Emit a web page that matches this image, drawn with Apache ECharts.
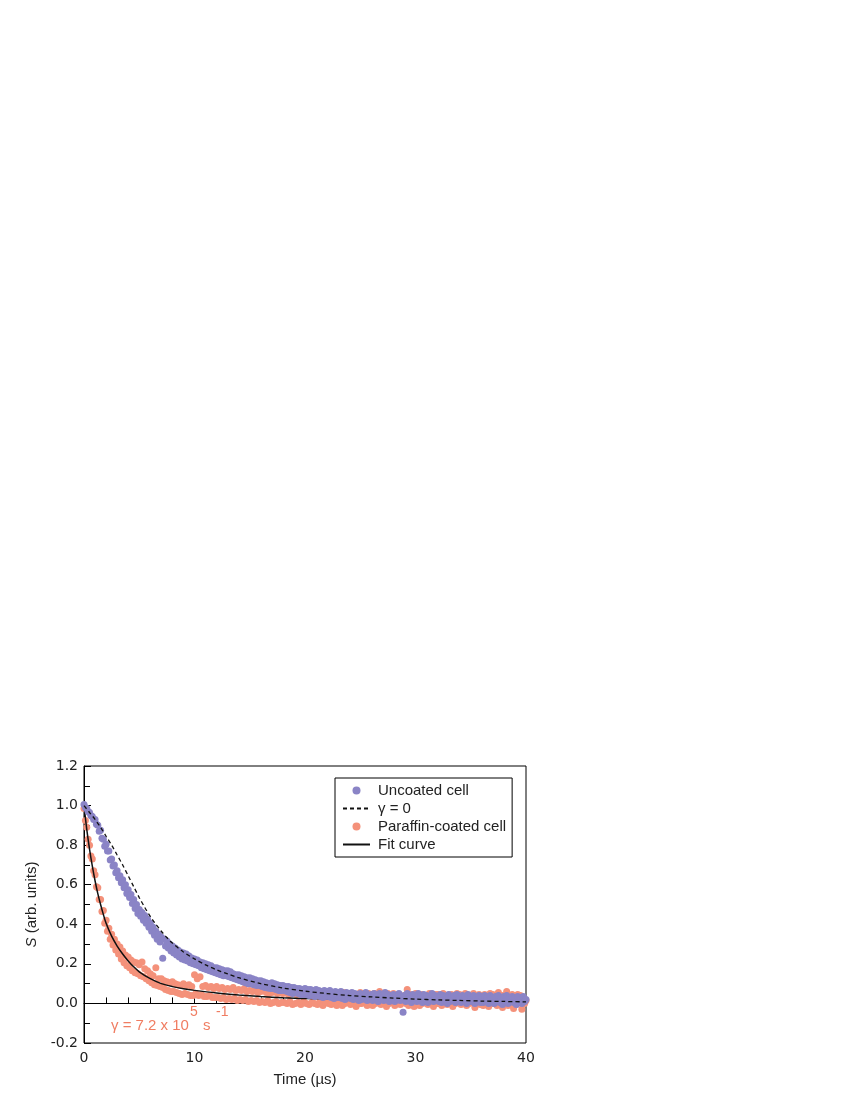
<!DOCTYPE html>
<html>
<head>
<meta charset="utf-8">
<script src="https://cdn.jsdelivr.net/npm/echarts@6/dist/echarts.min.js"></script>
<style>
  html, body { margin: 0; padding: 0; background: #fff; }
  #chart { width: 850px; height: 1100px; }
</style>
</head>
<body>
<div id="chart"></div>
<script>
// sample times (µs), shared by both data sets
const times = [
  0, 0.125, 0.25, 0.375, 0.5, 0.625, 0.75, 0.875,
  1, 1.125, 1.25, 1.375, 1.5, 1.625, 1.75, 1.875,
  2, 2.125, 2.25, 2.375, 2.5, 2.625, 2.75, 2.875,
  3, 3.125, 3.25, 3.375, 3.5, 3.625, 3.75, 3.875,
  4, 4.125, 4.25, 4.375, 4.5, 4.625, 4.75, 4.875,
  5, 5.125, 5.25, 5.375, 5.5, 5.625, 5.75, 5.875,
  6, 6.125, 6.25, 6.375, 6.5, 6.625, 6.75, 6.875,
  7, 7.125, 7.25, 7.375, 7.5, 7.625, 7.75, 7.875,
  8, 8.125, 8.25, 8.375, 8.5, 8.625, 8.75, 8.875,
  9, 9.125, 9.25, 9.375, 9.5, 9.625, 9.75, 9.875,
  10, 10.125, 10.25, 10.375, 10.5, 10.625, 10.75, 10.875,
  11, 11.125, 11.25, 11.375, 11.5, 11.625, 11.75, 11.875,
  12, 12.125, 12.25, 12.375, 12.5, 12.625, 12.75, 12.875,
  13, 13.125, 13.25, 13.375, 13.5, 13.625, 13.75, 13.875,
  14, 14.125, 14.25, 14.375, 14.5, 14.625, 14.75, 14.875,
  15, 15.125, 15.25, 15.375, 15.5, 15.625, 15.75, 15.875,
  16, 16.125, 16.25, 16.375, 16.5, 16.625, 16.75, 16.875,
  17, 17.125, 17.25, 17.375, 17.5, 17.625, 17.75, 17.875,
  18, 18.125, 18.25, 18.375, 18.5, 18.625, 18.75, 18.875,
  19, 19.125, 19.25, 19.375, 19.5, 19.625, 19.75, 19.875,
  20, 20.125, 20.25, 20.375, 20.5, 20.625, 20.75, 20.875,
  21, 21.125, 21.25, 21.375, 21.5, 21.625, 21.75, 21.875,
  22, 22.125, 22.25, 22.375, 22.5, 22.625, 22.75, 22.875,
  23, 23.125, 23.25, 23.375, 23.5, 23.625, 23.75, 23.875,
  24, 24.125, 24.25, 24.375, 24.5, 24.625, 24.75, 24.875,
  25, 25.125, 25.25, 25.375, 25.5, 25.625, 25.75, 25.875,
  26, 26.125, 26.25, 26.375, 26.5, 26.625, 26.75, 26.875,
  27, 27.125, 27.25, 27.375, 27.5, 27.625, 27.75, 27.875,
  28, 28.125, 28.25, 28.375, 28.5, 28.625, 28.75, 28.875,
  29, 29.125, 29.25, 29.375, 29.5, 29.625, 29.75, 29.875,
  30, 30.125, 30.25, 30.375, 30.5, 30.625, 30.75, 30.875,
  31, 31.125, 31.25, 31.375, 31.5, 31.625, 31.75, 31.875,
  32, 32.125, 32.25, 32.375, 32.5, 32.625, 32.75, 32.875,
  33, 33.125, 33.25, 33.375, 33.5, 33.625, 33.75, 33.875,
  34, 34.125, 34.25, 34.375, 34.5, 34.625, 34.75, 34.875,
  35, 35.125, 35.25, 35.375, 35.5, 35.625, 35.75, 35.875,
  36, 36.125, 36.25, 36.375, 36.5, 36.625, 36.75, 36.875,
  37, 37.125, 37.25, 37.375, 37.5, 37.625, 37.75, 37.875,
  38, 38.125, 38.25, 38.375, 38.5, 38.625, 38.75, 38.875,
  39, 39.125, 39.25, 39.375, 39.5, 39.625, 39.75, 39.875,
  40
]

// uncoated cell signal (one row per µs)
const uncoated = [
  1.005, 0.99, 0.985, 0.97, 0.965, 0.95, 0.945, 0.93,
  0.93, 0.905, 0.90, 0.87, 0.875, 0.835, 0.83, 0.795,
  0.805, 0.77, 0.77, 0.725, 0.73, 0.695, 0.70, 0.66,
  0.67, 0.635, 0.645, 0.61, 0.625, 0.585, 0.60, 0.555,
  0.575, 0.535, 0.55, 0.505, 0.525, 0.48, 0.50, 0.455,
  0.475, 0.44, 0.46, 0.42, 0.445, 0.405, 0.425, 0.385,
  0.405, 0.365, 0.385, 0.345, 0.365, 0.325, 0.35, 0.31,
  0.335, 0.228, 0.325, 0.29, 0.315, 0.28, 0.30, 0.265,
  0.29, 0.255, 0.28, 0.245, 0.27, 0.235, 0.26, 0.225,
  0.255, 0.22, 0.25, 0.215, 0.24, 0.205, 0.23, 0.20,
  0.225, 0.195, 0.22, 0.19, 0.21, 0.18, 0.205, 0.175,
  0.20, 0.17, 0.195, 0.165, 0.19, 0.16, 0.18, 0.155,
  0.18, 0.15, 0.175, 0.145, 0.17, 0.14, 0.165, 0.14,
  0.165, 0.135, 0.16, 0.13, 0.15, 0.125, 0.145, 0.12,
  0.145, 0.115, 0.14, 0.11, 0.135, 0.105, 0.13, 0.10,
  0.13, 0.10, 0.125, 0.095, 0.12, 0.09, 0.115, 0.09,
  0.115, 0.085, 0.11, 0.08, 0.105, 0.078, 0.10, 0.075,
  0.105, 0.075, 0.10, 0.07, 0.095, 0.065, 0.09, 0.065,
  0.09, 0.065, 0.085, 0.06, 0.085, 0.055, 0.08, 0.05,
  0.08, 0.055, 0.075, 0.05, 0.075, 0.045, 0.07, 0.045,
  0.075, 0.045, 0.07, 0.04, 0.07, 0.04, 0.065, 0.035,
  0.07, 0.04, 0.065, 0.035, 0.06, 0.03, 0.065, 0.035,
  0.06, 0.035, 0.065, 0.03, 0.055, 0.025, 0.06, 0.03,
  0.055, 0.03, 0.06, 0.025, 0.05, 0.02, 0.055, 0.03,
  0.05, 0.025, 0.055, 0.02, 0.05, 0.03, 0.045, 0.015,
  0.05, 0.02, 0.045, 0.025, 0.055, 0.015, 0.04, 0.025,
  0.045, 0.015, 0.05, 0.02, 0.04, 0.01, 0.05, 0.025,
  0.04, 0.015, 0.055, 0.02, 0.045, 0.01, 0.04, 0.02,
  0.045, 0.01, 0.04, 0.02, 0.05, 0.015, 0.035, -0.045,
  0.04, 0.01, 0.05, 0.015, 0.035, 0.005, 0.045, 0.02,
  0.035, 0.01, 0.05, 0.015, 0.04, 0.005, 0.045, 0.02,
  0.04, 0.005, 0.035, 0.015, 0.05, 0.01, 0.04, 0.02,
  0.035, 0.01, 0.045, 0.005, 0.04, 0.015, 0.035, 0.0,
  0.045, 0.01, 0.035, 0.02, 0.04, 0.005, 0.045, 0.015,
  0.03, 0.005, 0.04, 0.015, 0.035, 0.0, 0.045, 0.01,
  0.035, 0.01, 0.04, 0.0, 0.03, 0.015, 0.04, 0.005,
  0.035, 0.005, 0.04, 0.01, 0.03, 0.0, 0.04, 0.015,
  0.03, 0.0, 0.035, 0.01, 0.04, 0.005, 0.03, -0.005,
  0.035, 0.01, 0.04, 0.0, 0.03, 0.01, 0.035, 0.005,
  0.03, -0.005, 0.035, 0.01, 0.03, 0.0, 0.035, 0.01,
  0.02
]

// paraffin-coated cell signal (one row per µs)
const coated = [
  0.985, 0.925, 0.89, 0.83, 0.80, 0.745, 0.73, 0.67,
  0.65, 0.59, 0.585, 0.525, 0.525, 0.465, 0.47, 0.405,
  0.42, 0.365, 0.38, 0.325, 0.35, 0.295, 0.325, 0.27,
  0.30, 0.25, 0.285, 0.225, 0.265, 0.205, 0.245, 0.19,
  0.235, 0.18, 0.22, 0.165, 0.21, 0.155, 0.205, 0.15,
  0.195, 0.14, 0.21, 0.135, 0.175, 0.125, 0.165, 0.115,
  0.15, 0.105, 0.14, 0.095, 0.18, 0.09, 0.125, 0.085,
  0.125, 0.08, 0.115, 0.07, 0.11, 0.065, 0.105, 0.06,
  0.11, 0.06, 0.10, 0.055, 0.095, 0.05, 0.09, 0.045,
  0.10, 0.05, 0.09, 0.045, 0.095, 0.04, 0.085, 0.04,
  0.145, 0.05, 0.125, 0.04, 0.135, 0.045, 0.085, 0.035,
  0.09, 0.035, 0.08, 0.04, 0.085, 0.03, 0.075, 0.03,
  0.085, 0.03, 0.075, 0.025, 0.08, 0.03, 0.07, 0.02,
  0.075, 0.025, 0.07, 0.02, 0.08, 0.025, 0.065, 0.015,
  0.07, 0.02, 0.065, 0.015, 0.075, 0.02, 0.06, 0.01,
  0.065, 0.015, 0.06, 0.01, 0.07, 0.015, 0.055, 0.005,
  0.06, 0.01, 0.065, 0.005, 0.055, 0.015, 0.05, 0.0,
  0.055, 0.005, 0.06, 0.01, 0.05, 0.0, 0.055, 0.005,
  0.05, 0.005, 0.055, 0.0, 0.045, 0.01, 0.05, -0.005,
  0.055, 0.0, 0.045, 0.005, 0.05, -0.005, 0.04, 0.01,
  0.045, 0.0, 0.05, -0.005, 0.04, 0.005, 0.055, 0.0,
  0.05, -0.005, 0.04, 0.01, 0.055, -0.01, 0.045, 0.005,
  0.04, 0.0, 0.055, -0.005, 0.045, 0.01, 0.035, -0.01,
  0.05, 0.005, 0.04, -0.01, 0.055, 0.0, 0.045, 0.01,
  0.035, -0.005, 0.05, 0.005, 0.045, -0.015, 0.04, 0.0,
  0.055, 0.0, 0.035, 0.01, 0.045, -0.01, 0.05, 0.005,
  0.04, -0.01, 0.05, 0.0, 0.035, 0.015, 0.06, -0.005,
  0.045, 0.005, 0.04, -0.015, 0.05, 0.0, 0.035, 0.01,
  0.05, -0.01, 0.04, 0.005, 0.045, -0.005, 0.035, 0.015,
  0.04, 0.0, 0.07, -0.01, 0.045, 0.005, 0.035, -0.015,
  0.05, 0.005, 0.04, -0.01, 0.045, 0.0, 0.035, 0.01,
  0.04, -0.005, 0.05, 0.005, 0.035, -0.015, 0.045, 0.0,
  0.045, 0.0, 0.035, -0.01, 0.05, 0.005, 0.04, -0.005,
  0.035, 0.01, 0.045, -0.015, 0.04, 0.0, 0.05, 0.005,
  0.045, -0.005, 0.035, 0.01, 0.05, -0.01, 0.04, 0.0,
  0.04, 0.005, 0.05, -0.02, 0.035, 0.0, 0.045, -0.005,
  0.035, -0.01, 0.045, 0.005, 0.04, -0.015, 0.05, 0.0,
  0.045, 0.0, 0.035, -0.01, 0.055, 0.005, 0.04, -0.02,
  0.04, 0.005, 0.06, -0.01, 0.035, 0.0, 0.045, -0.025,
  0.035, -0.005, 0.045, 0.01, 0.04, -0.03, 0.03, 0.0,
  0.015
]

// gamma = 0 model curve (dashed)
const modelT = [0, 0.5, 1, 1.5, 2, 2.5, 3, 3.5, 4, 4.5, 5, 5.5, 6, 6.5, 7, 7.5, 8, 9, 10, 11, 12, 13, 14, 16, 18, 20, 22, 24, 26, 28, 30, 32, 34, 36, 38, 40]
const modelS = [1.0, 0.965, 0.93, 0.89, 0.845, 0.80, 0.75, 0.70, 0.645, 0.59, 0.535, 0.485, 0.44, 0.40, 0.365, 0.333, 0.305, 0.26, 0.225, 0.195, 0.17, 0.149, 0.13, 0.10, 0.078, 0.062, 0.05, 0.04, 0.033, 0.027, 0.022, 0.018, 0.015, 0.012, 0.01, 0.008]

// fit curve for the coated cell (solid)
const fitT = [0, 0.25, 0.5, 0.75, 1, 1.25, 1.5, 1.75, 2, 2.5, 3, 3.5, 4, 4.5, 5, 6, 7, 8, 9, 10, 12, 14, 16, 18, 20, 25, 30, 35, 40]
const fitS = [1.0, 0.88, 0.78, 0.695, 0.62, 0.555, 0.50, 0.45, 0.405, 0.34, 0.29, 0.25, 0.215, 0.185, 0.16, 0.125, 0.10, 0.085, 0.074, 0.066, 0.053, 0.043, 0.035, 0.029, 0.025, 0.02, 0.016, 0.013, 0.011]

const purple = '#8a84c6'
const orange = '#f4917a'
const labelFont = 'DejaVu Sans'
const textFont = 'Liberation Sans'

const pairs = (xs, ys) => xs.map((x, i) => [x, ys[i]])

const chart = echarts.init(document.getElementById('chart'))
chart.setOption({
  animation: false,
  grid: {
    left: 84, right: 324, top: 766, bottom: 57,
    show: true, borderColor: '#000', borderWidth: 1
  },
  legend: {
    left: 335, top: 778,
    orient: 'vertical',
    selectedMode: false,
    backgroundColor: '#fff',
    borderColor: '#000', borderWidth: 1,
    padding: [5, 6, 5, 7],
    itemWidth: 27, itemHeight: 8, itemGap: 3,
    textStyle: { fontFamily: textFont, fontSize: 15, color: '#222', padding: [0, 0, 0, 3] },
    data: ['Uncoated cell', 'γ = 0', 'Paraffin-coated cell', 'Fit curve']
  },
  xAxis: {
    type: 'value', min: 0, max: 40, interval: 10,
    name: 'Time (µs)', nameLocation: 'middle', nameGap: 29,
    nameTextStyle: { fontFamily: textFont, fontSize: 15, color: '#222' },
    axisLine: { lineStyle: { color: '#000' } },
    axisTick: { inside: true, length: 7, lineStyle: { color: '#000' } },
    minorTick: { show: true, splitNumber: 5, length: 6, lineStyle: { color: '#000' } },
    splitLine: { show: false },
    axisLabel: { fontFamily: labelFont, fontSize: 14, color: '#222', margin: 8 }
  },
  yAxis: {
    type: 'value', min: -0.2, max: 1.2, interval: 0.2,
    name: '{i|S} (arb. units)', nameLocation: 'middle', nameGap: 40, nameRotate: 90,
    nameTextStyle: {
      fontFamily: textFont, fontSize: 15, color: '#222',
      rich: { i: { fontFamily: textFont, fontSize: 15, fontStyle: 'italic', color: '#222' } }
    },
    axisLine: { lineStyle: { color: '#000' } },
    axisTick: { inside: true, length: 7, lineStyle: { color: '#000' } },
    minorTick: { show: true, splitNumber: 2, length: 6, lineStyle: { color: '#000' } },
    splitLine: { show: false },
    axisLabel: {
      fontFamily: labelFont, fontSize: 14, color: '#222', margin: 6,
      formatter: v => v.toFixed(1)
    }
  },
  series: [
    {
      name: 'Paraffin-coated cell', type: 'scatter', z: 1,
      symbol: 'circle', symbolSize: 7,
      itemStyle: { color: orange, opacity: 1 },
      data: pairs(times, coated)
    },
    {
      name: 'Fit curve', type: 'line', z: 2,
      symbol: 'none', smooth: 0.3,
      lineStyle: { color: '#111', width: 1.5 },
      itemStyle: { color: 'rgba(0,0,0,0)' },
      data: pairs(fitT, fitS)
    },
    {
      name: 'Uncoated cell', type: 'scatter', z: 3,
      symbol: 'circle', symbolSize: 7,
      itemStyle: { color: purple, opacity: 1 },
      data: pairs(times, uncoated)
    },
    {
      name: 'γ = 0', type: 'line', z: 4,
      symbol: 'none', smooth: 0.3,
      lineStyle: { color: '#111', width: 1.3, type: [4, 3] },
      itemStyle: { color: 'rgba(0,0,0,0)' },
      data: pairs(modelT, modelS)
    }
  ],
  graphic: [
    { type: 'text', x: 111, y: 1026, style: { text: 'γ = 7.2 x 10', fill: '#f07d62', font: '15px ' + textFont, verticalAlign: 'middle' } },
    { type: 'text', x: 190, y: 1012, style: { text: '5', fill: '#f07d62', font: '14px ' + textFont, verticalAlign: 'middle' } },
    { type: 'text', x: 203, y: 1026, style: { text: 's', fill: '#f07d62', font: '15px ' + textFont, verticalAlign: 'middle' } },
    { type: 'text', x: 216, y: 1012, style: { text: '-1', fill: '#f07d62', font: '14px ' + textFont, verticalAlign: 'middle' } }
  ]
})
</script>
</body>
</html>
